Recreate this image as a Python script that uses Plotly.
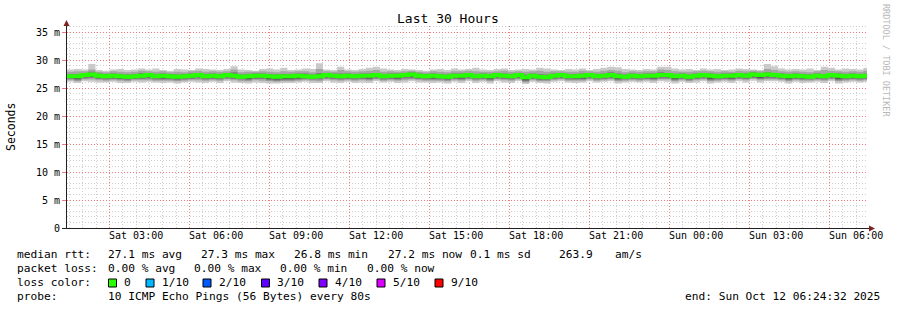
import math
import plotly.graph_objects as go
import pandas as pd

# ---------------- data (ms) ----------------
median = [27.1,27.1,27.3,27.4,27.2,27.1,27.2,27.1,27.0,27.1,
          27.2,27.3,27.1,27.2,27.1,27.0,27.1,27.2,27.3,27.1,
          27.2,27.1,27.3,27.2,27.0,27.1,27.2,27.2,27.1,27.0,
          27.1,27.1,27.2,27.1,27.0,27.1,27.3,27.2,27.1,27.2,
          27.1,27.2,27.2,27.3,27.1,27.2,27.2,27.3,27.4,27.2,
          27.1,27.2,27.1,27.0,27.2,27.2,27.3,27.1,27.2,27.1,
          27.3,27.2,27.1,27.3,26.9,27.2,27.0,26.9,27.2,27.3,
          27.1,27.1,27.2,27.3,27.1,27.2,27.3,27.1,27.0,27.2,
          27.1,27.2,27.2,27.3,27.3,27.1,27.2,27.0,27.2,27.3,
          27.2,27.1,27.2,27.2,27.3,27.2,27.4,27.3,27.4,27.3,
          27.2,27.1,27.2,27.1,27.0,27.2,27.1,27.3,27.2,27.1,
          27.2,27.1,27.2]
ping10 = [28.3,28.4,28.3,29.3,28.2,28.1,28.3,28.4,28.2,28.3,
          28.5,28.3,28.5,28.2,28.1,28.4,28.3,28.2,28.5,28.4,
          28.3,28.2,28.4,28.9,28.3,28.2,28.1,28.4,28.5,28.3,
          28.6,28.2,28.3,28.5,28.4,29.4,28.3,28.2,28.8,28.3,
          28.2,28.4,28.6,28.8,28.5,28.3,28.2,28.4,28.3,28.2,
          28.1,28.3,28.4,28.2,28.5,28.3,28.4,28.6,28.3,28.2,
          28.4,28.5,28.2,28.3,28.4,28.3,28.6,28.5,28.3,28.2,
          28.4,28.3,28.5,28.2,28.4,28.6,28.8,28.7,28.4,28.3,
          28.2,28.4,28.3,28.8,28.8,28.5,28.3,28.4,28.2,28.5,
          28.3,28.4,28.2,28.3,28.5,28.4,28.3,28.2,29.3,28.9,
          28.5,28.3,28.4,28.3,28.5,28.2,28.8,28.6,28.3,28.5,
          28.4,28.3,28.6]
ping9 = [27.9,28.0,28.0,28.3,27.9,27.8,28.0,27.9,27.8,27.9,
         28.1,28.0,27.9,28.0,27.8,27.9,27.8,28.0,28.1,27.9,
         28.0,27.9,28.0,28.3,27.8,27.9,27.9,28.0,27.9,27.8,
         28.0,27.9,28.0,28.0,27.8,28.4,28.0,27.9,28.2,28.0,
         27.9,28.0,28.1,28.2,27.9,28.0,27.9,28.0,28.1,27.9,
         27.8,28.0,27.9,27.8,28.0,28.0,28.1,28.0,27.9,27.9,
         28.0,28.1,27.9,28.0,27.9,28.0,28.1,27.9,28.0,28.0,
         27.9,27.9,28.1,28.0,27.9,28.1,28.2,28.1,27.8,28.0,
         27.9,28.0,28.0,28.3,28.2,28.0,27.9,27.9,28.0,28.1,
         28.0,27.9,28.0,27.9,28.1,28.0,28.1,28.0,28.4,28.2,
         28.0,27.9,28.0,27.9,27.8,28.0,28.2,28.1,28.0,27.9,
         28.0,27.9,28.1]
ping8 = [27.5,27.5,27.7,27.9,27.6,27.5,27.6,27.5,27.4,27.5,
         27.7,27.7,27.5,27.6,27.5,27.4,27.5,27.6,27.7,27.5,
         27.6,27.5,27.7,27.8,27.4,27.5,27.6,27.6,27.5,27.4,
         27.5,27.5,27.6,27.6,27.4,27.7,27.7,27.6,27.6,27.6,
         27.5,27.6,27.6,27.7,27.5,27.6,27.6,27.7,27.8,27.6,
         27.5,27.6,27.5,27.4,27.6,27.6,27.7,27.5,27.6,27.5,
         27.7,27.6,27.5,27.7,27.4,27.6,27.5,27.4,27.6,27.7,
         27.5,27.5,27.6,27.7,27.5,27.6,27.8,27.6,27.4,27.6,
         27.5,27.6,27.6,27.8,27.7,27.5,27.6,27.4,27.6,27.7,
         27.6,27.5,27.6,27.6,27.7,27.6,27.8,27.7,27.8,27.7,
         27.6,27.5,27.6,27.5,27.4,27.6,27.5,27.7,27.6,27.5,
         27.6,27.5,27.6]
ping7 = [27.3,27.3,27.5,27.6,27.4,27.3,27.4,27.3,27.2,27.3,
         27.4,27.5,27.3,27.4,27.3,27.2,27.3,27.4,27.5,27.3,
         27.4,27.3,27.5,27.5,27.2,27.3,27.4,27.4,27.3,27.2,
         27.3,27.3,27.4,27.3,27.2,27.4,27.5,27.4,27.3,27.4,
         27.3,27.4,27.4,27.5,27.3,27.4,27.4,27.5,27.6,27.4,
         27.3,27.4,27.3,27.2,27.4,27.4,27.5,27.3,27.4,27.3,
         27.5,27.4,27.3,27.5,27.2,27.4,27.2,27.1,27.4,27.5,
         27.3,27.3,27.4,27.5,27.3,27.4,27.5,27.3,27.2,27.4,
         27.3,27.4,27.4,27.5,27.5,27.3,27.4,27.2,27.4,27.5,
         27.4,27.3,27.4,27.4,27.5,27.4,27.6,27.5,27.6,27.5,
         27.4,27.3,27.4,27.3,27.2,27.4,27.3,27.5,27.4,27.3,
         27.4,27.3,27.4]
ping4 = [26.9,26.6,27.0,27.1,26.9,26.8,26.9,26.7,26.8,26.9,
         26.9,26.9,26.8,26.7,26.8,26.7,26.8,26.9,27.0,26.8,
         26.9,26.8,27.0,26.9,26.8,26.6,26.9,26.9,26.6,26.5,
         26.6,26.6,26.7,26.9,26.8,26.8,27.0,26.9,26.8,26.9,
         26.8,26.9,26.7,27.0,26.8,26.9,26.7,27.0,27.0,26.9,
         26.8,26.7,26.8,26.7,26.9,26.7,27.0,26.8,26.9,26.6,
         27.0,26.9,26.8,27.0,26.4,26.9,26.7,26.6,26.9,27.0,
         26.8,26.7,26.7,27.0,26.8,26.9,27.0,26.6,26.8,26.9,
         26.8,26.9,26.7,27.0,27.0,26.6,26.9,26.7,26.9,27.0,
         26.6,26.8,26.9,26.7,27.0,26.9,27.1,26.8,27.0,27.0,
         26.9,26.6,26.9,26.7,26.8,26.9,26.8,27.0,26.6,26.8,
         26.9,26.8,26.9]
ping3 = [26.6,26.4,26.7,26.8,26.6,26.5,26.6,26.5,26.4,26.6,
         26.6,26.7,26.5,26.5,26.5,26.4,26.5,26.6,26.7,26.5,
         26.6,26.5,26.7,26.6,26.5,26.4,26.6,26.6,26.4,26.3,
         26.4,26.4,26.5,26.6,26.5,26.5,26.7,26.6,26.5,26.6,
         26.5,26.6,26.5,26.7,26.5,26.6,26.5,26.7,26.7,26.6,
         26.5,26.5,26.5,26.4,26.6,26.5,26.7,26.5,26.6,26.4,
         26.7,26.6,26.5,26.7,26.2,26.6,26.4,26.4,26.6,26.7,
         26.5,26.5,26.5,26.7,26.5,26.6,26.7,26.4,26.5,26.6,
         26.5,26.6,26.5,26.7,26.7,26.4,26.6,26.4,26.6,26.7,
         26.4,26.5,26.6,26.5,26.7,26.6,26.8,26.6,26.7,26.7,
         26.6,26.4,26.6,26.5,26.5,26.6,26.5,26.7,26.4,26.5,
         26.6,26.5,26.6]
ping2 = [26.4,26.2,26.5,26.5,26.4,26.3,26.4,26.3,26.2,26.4,
         26.4,26.4,26.3,26.3,26.3,26.2,26.3,26.4,26.4,26.3,
         26.4,26.3,26.5,26.4,26.2,26.2,26.4,26.3,26.2,26.1,
         26.2,26.2,26.3,26.4,26.3,26.2,26.5,26.4,26.3,26.4,
         26.3,26.4,26.3,26.5,26.3,26.4,26.3,26.4,26.5,26.4,
         26.3,26.3,26.3,26.2,26.4,26.3,26.5,26.3,26.4,26.2,
         26.5,26.4,26.3,26.5,26.0,26.4,26.2,26.2,26.4,26.5,
         26.3,26.3,26.3,26.5,26.3,26.4,26.5,26.2,26.3,26.4,
         26.3,26.4,26.3,26.5,26.5,26.2,26.4,26.2,26.4,26.5,
         26.2,26.3,26.4,26.3,26.5,26.4,26.6,26.4,26.5,26.5,
         26.4,26.2,26.4,26.3,26.3,26.4,26.3,26.5,26.2,26.3,
         26.4,26.3,26.4]
ping1 = [26.1,25.9,26.2,26.1,26.0,26.0,26.1,25.9,25.9,26.1,
         26.0,26.1,26.0,25.9,26.0,25.8,26.0,26.1,26.0,25.9,
         26.1,25.9,26.2,26.0,25.9,25.8,26.0,25.9,25.8,25.8,
         25.9,25.9,26.0,26.1,25.9,25.9,26.2,26.0,25.9,26.1,
         25.9,26.0,25.9,26.2,26.0,26.1,25.9,26.0,26.2,26.0,
         26.0,25.9,26.0,25.8,26.1,25.9,26.2,25.9,26.1,25.8,
         26.2,26.0,25.9,26.2,25.7,26.1,25.9,25.8,26.1,26.2,
         26.0,25.9,26.0,26.2,26.0,26.1,26.2,25.8,26.0,26.1,
         26.0,26.1,25.9,26.2,26.1,25.8,26.1,25.9,26.0,26.2,
         25.8,26.0,26.1,25.9,26.2,26.0,26.3,26.0,26.2,26.2,
         26.1,25.8,26.1,25.9,26.0,26.1,25.9,26.2,25.8,26.0,
         26.1,26.0,26.1]

y_tick_vals = [0, 5, 10, 15, 20, 25, 30, 35]
y_tick_text = ["0", "5 m", "10 m", "15 m", "20 m", "25 m", "30 m", "35 m"]
x_label_times = ["2025-10-11 03:00", "2025-10-11 06:00", "2025-10-11 09:00",
                 "2025-10-11 12:00", "2025-10-11 15:00", "2025-10-11 18:00",
                 "2025-10-11 21:00", "2025-10-12 00:00", "2025-10-12 03:00",
                 "2025-10-12 06:00"]
x_labels = ["Sat 03:00", "Sat 06:00", "Sat 09:00", "Sat 12:00", "Sat 15:00",
            "Sat 18:00", "Sat 21:00", "Sun 00:00", "Sun 03:00", "Sun 06:00"]
x_major_grid = ["2025-10-11 02:00", "2025-10-11 05:00", "2025-10-11 08:00",
                "2025-10-11 11:00", "2025-10-11 14:00", "2025-10-11 17:00",
                "2025-10-11 20:00", "2025-10-11 23:00", "2025-10-12 02:00",
                "2025-10-12 05:00"]
loss_labels = ["0", "1/10", "2/10", "3/10", "4/10", "5/10", "9/10"]
loss_colors = ["#26ff00", "#00b8ff", "#0059ff", "#5e00ff", "#7e00ff", "#dd00ff", "#ff0000"]
smoke_colors = ["#cacaca", "#a4a4a4", "#7e7e7e", "#585858"]

# ---------------- geometry ----------------
W, H = 897, 310
L, R, T, B = 67, 30, 26, 82
PW = W - L - R
PH = H - T - B
PX_PER_MS = 5.6
YMAX = PH / PX_PER_MS

def px(x):
    return (x - L) / PW

def py(y):
    return (H - B - y) / PH

start = pd.Timestamp("2025-10-11 00:24:32")
end = pd.Timestamp("2025-10-12 06:24:32")
SPAN = (end - start).total_seconds()
step = pd.Timedelta(minutes=16)
n = len(median)
times = [start + i * step for i in range(n + 1)]

def time_px(t):
    return L + (pd.Timestamp(t) - start).total_seconds() / SPAN * PW

def val_px(v):
    return (H - B) - v * PX_PER_MS

def crisp(p):
    return math.floor(p) + 0.5

major_x = set(pd.to_datetime(x_major_grid))
x_minor_grid = [t for t in pd.date_range("2025-10-11 00:30", "2025-10-12 06:00",
                                         freq="30min") if t not in major_x]
y_minor_grid = [v for v in range(1, 37) if v % 5 != 0]

def ext(a):
    return list(a) + [a[-1]]

fig = go.Figure()
pairs = [(ping1, ping10), (ping2, ping9), (ping3, ping8), (ping4, ping7)]
for (lo, hi), col in zip(pairs, smoke_colors):
    fig.add_trace(go.Scatter(x=times, y=ext(lo), mode="lines",
                             line=dict(width=0, shape="hv"), showlegend=False,
                             hoverinfo="skip"))
    fig.add_trace(go.Scatter(x=times, y=ext(hi), mode="lines", fill="tonexty",
                             fillcolor=col, line=dict(width=0, shape="hv"),
                             showlegend=False, hoverinfo="skip"))
fig.add_trace(go.Scatter(x=times, y=ext(median), mode="lines",
                         line=dict(color="#26ff00", width=4, shape="hv"),
                         showlegend=False))

MONO = "DejaVu Sans Mono"
GRID = "#cfcfcf"
MGRID = "#f47a7a"

fig.update_layout(
    width=W, height=H, template="none",
    margin=dict(l=L, r=R, t=T, b=B, pad=0),
    paper_bgcolor="white", plot_bgcolor="white",
    showlegend=False,
    xaxis=dict(type="date", range=[start, end], tickvals=x_label_times,
               ticktext=x_labels, showgrid=False, zeroline=False,
               showline=False, ticks="",
               tickfont=dict(family=MONO, size=10, color="#000")),
    yaxis=dict(range=[0, YMAX], tickvals=y_tick_vals, ticktext=y_tick_text,
               showgrid=False, zeroline=False, showline=False,
               ticks="outside", ticklen=4, tickcolor=MGRID,
               tickfont=dict(family=MONO, size=10, color="#000")),
)

shapes = []
def vline(xp, color, dash):
    c = crisp(xp)
    shapes.append(dict(type="line", xref="paper", yref="paper",
                       x0=px(c), x1=px(c), y0=0, y1=1, layer="below",
                       line=dict(color=color, width=1, dash=dash)))

def hline(yp, color, dash):
    c = crisp(yp)
    shapes.append(dict(type="line", xref="paper", yref="paper",
                       x0=0, x1=1, y0=py(c), y1=py(c), layer="below",
                       line=dict(color=color, width=1, dash=dash)))

for t in x_minor_grid:
    vline(time_px(t), GRID, "1px,2px")
for v in y_minor_grid:
    hline(val_px(v), GRID, "1px,2px")
for t in x_major_grid:
    vline(time_px(t), MGRID, "1px,2px")
for v in y_tick_vals[1:]:
    hline(val_px(v), MGRID, "1px,2px")

AXIS = "#212121"
ARROW = "#802121"
shapes += [
    dict(type="line", xref="paper", yref="paper", x0=px(66), x1=px(870),
         y0=py(228.5), y1=py(228.5), line=dict(color=AXIS, width=1)),
    dict(type="line", xref="paper", yref="paper", x0=px(66.5), x1=px(66.5),
         y0=py(228.5), y1=py(24), line=dict(color=AXIS, width=1)),
    dict(type="line", xref="paper", yref="paper", x0=px(62), x1=px(67),
         y0=py(228.5), y1=py(228.5), line=dict(color=AXIS, width=1)),
    dict(type="path", xref="paper", yref="paper",
         path=f"M {px(63.5)} {py(26)} L {px(69.5)} {py(26)} L {px(66.5)} {py(20)} Z",
         fillcolor=ARROW, line=dict(color=ARROW, width=0)),
    dict(type="path", xref="paper", yref="paper",
         path=f"M {px(869)} {py(225.5)} L {px(869)} {py(231.5)} L {px(875)} {py(228.5)} Z",
         fillcolor=ARROW, line=dict(color=ARROW, width=0)),
]

ann = []
def text(x, y, s, size=11.2, anchor="left", color="#000", angle=0):
    ann.append(dict(xref="paper", yref="paper", x=px(x), y=py(y), text=s,
                    showarrow=False, xanchor=anchor, yanchor="middle",
                    textangle=angle, borderpad=0,
                    font=dict(family=MONO, size=size, color=color)))

text(448, 19, "Last 30 Hours", size=13, anchor="center")
text(11, 127, "Seconds", size=11.5, anchor="center", angle=-90)
text(886, 60, "RRDTOOL / TOBI OETIKER", size=8.5, anchor="center",
     color="#b8b8b8", angle=90)

y1, y2, y3, y4 = 254.5, 268.5, 282.5, 296.5
text(16, y1, "median rtt:")
text(107, y1, "27.1 ms avg")
text(200, y1, "27.3 ms max")
text(293, y1, "26.8 ms min")
text(387, y1, "27.2 ms now")
text(469, y1, "0.1 ms sd")
text(558, y1, "263.9")
text(614, y1, "am/s")

text(16, y2, "packet loss:")
text(107, y2, "0.00 % avg")
text(193, y2, "0.00 % max")
text(279, y2, "0.00 % min")
text(366, y2, "0.00 % now")

text(16, y3, "loss color:")
sq_x = [108.5, 146, 203, 261.5, 319, 377, 435]
for sx, lab, col in zip(sq_x, loss_labels, loss_colors):
    shapes.append(dict(type="rect", xref="paper", yref="paper",
                       x0=px(sx), x1=px(sx + 8), y0=py(y3 + 4.5), y1=py(y3 - 3.5),
                       fillcolor=col, line=dict(color="#000", width=1)))
    text(sx + 14.5, y3, lab)

text(16, y4, "probe:")
text(107, y4, "10 ICMP Echo Pings (56 Bytes) every 80s")
text(881, y4, "end: Sun Oct 12 06:24:32 2025", anchor="right")

fig.update_layout(shapes=shapes, annotations=ann)
fig.write_html("out.html")
